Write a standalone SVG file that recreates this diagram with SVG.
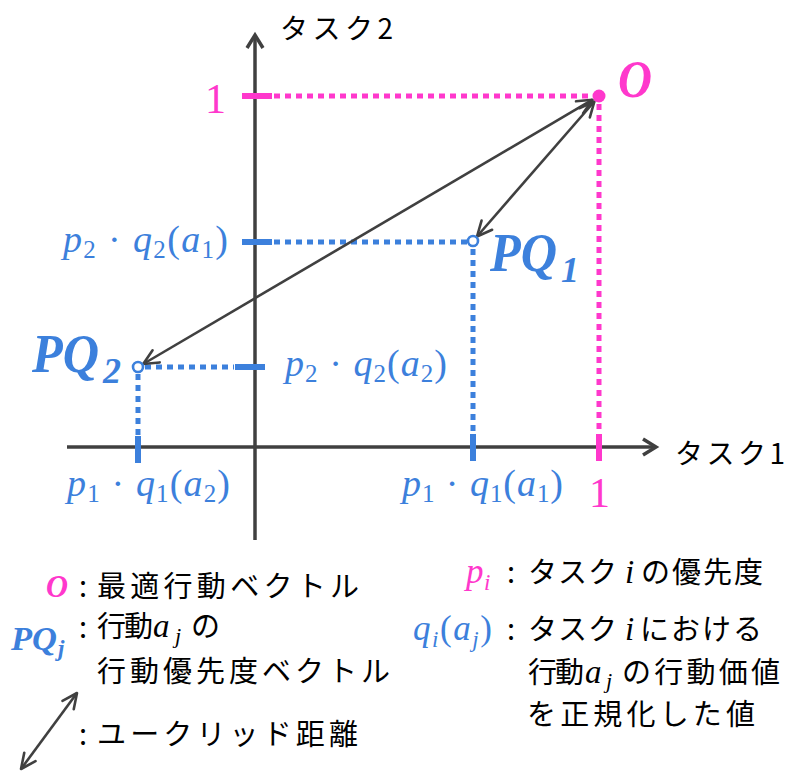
<svg xmlns="http://www.w3.org/2000/svg" width="788" height="773" viewBox="0 0 788 773">
<style>
.ax{stroke:#404040;stroke-width:3.5;fill:none}
.arr{stroke:#404040;stroke-width:2.6;fill:none}
.pk{fill:#ff38cc}
.bl{fill:#3c80dc}
.dotp{stroke:#ff38cc;stroke-width:5;stroke-dasharray:6 5;fill:none}
.dotb{stroke:#3c80dc;stroke-width:5;stroke-dasharray:6 5;fill:none}
.tkp{stroke:#ff38cc;stroke-width:6}
.tkb{stroke:#3c80dc;stroke-width:6}
.jp{font-family:"Noto Sans CJK JP","Noto Sans",sans-serif;fill:#000}
.m{font-family:"Liberation Serif",serif}
.mi{font-family:"Liberation Serif",serif;font-style:italic}
.mb{font-family:"Liberation Serif",serif;font-style:italic;font-weight:bold}
</style>
<defs>
<marker id="ah" viewBox="-18 -10 20 20" refX="0" refY="0" markerWidth="20" markerHeight="20" markerUnits="userSpaceOnUse" orient="auto-start-reverse">
<path d="M-15,-7 L0,0 L-15,7" stroke="#404040" stroke-width="2.6" fill="none" stroke-linecap="round" stroke-linejoin="round"/>
</marker>
</defs>

<g id="axes">
<line class="ax" x1="255" y1="36" x2="255" y2="540"/>
<path class="ax" d="M247,48 L255,35 L263,48"/>
<line class="ax" x1="67" y1="447" x2="655" y2="447"/>
<path class="ax" d="M643,439 L656,447 L643,455"/>
<text class="jp" x="280" y="39" font-size="28" textLength="113" lengthAdjust="spacing">タスク2</text>
<text class="jp" x="675" y="464" font-size="28" textLength="110" lengthAdjust="spacing">タスク1</text>
</g>

<g id="guides">
<line class="dotp" x1="274" y1="96" x2="593" y2="96"/>
<line class="dotp" x1="599" y1="104" x2="599" y2="434"/>
<line class="tkp" x1="242" y1="96" x2="272" y2="96"/>
<line class="tkp" x1="599" y1="434" x2="599" y2="461"/>
<line class="dotb" x1="274" y1="242" x2="467" y2="242"/>
<line class="dotb" x1="473" y1="249" x2="473" y2="434"/>
<line class="tkb" x1="242" y1="242" x2="272" y2="242"/>
<line class="tkb" x1="473" y1="434" x2="473" y2="461"/>
<line class="dotb" x1="145" y1="367" x2="234" y2="367"/>
<line class="dotb" x1="138" y1="374" x2="138" y2="436"/>
<line class="tkb" x1="235" y1="367" x2="265" y2="367"/>
<line class="tkb" x1="138" y1="436" x2="138" y2="463"/>
</g>

<g id="connectors">
<line class="arr" x1="143.2" y1="364" x2="592.5" y2="99.7" marker-start="url(#ah)" marker-end="url(#ah)"/>
<line class="arr" x1="594.4" y1="101.5" x2="477" y2="236.5" marker-start="url(#ah)" marker-end="url(#ah)"/>
<line class="arr" x1="77" y1="693" x2="21" y2="769" marker-start="url(#ah)" marker-end="url(#ah)"/>
</g>

<g id="node-O">
<circle cx="599" cy="96" r="6.5" fill="#ff38cc"/>
<text class="mb pk" x="618" y="97" font-size="52" textLength="34" lengthAdjust="spacingAndGlyphs">O</text>
</g>

<g id="node-PQ1">
<circle cx="473" cy="241" r="5" fill="#fff" stroke="#3c80dc" stroke-width="2.6"/>
<text class="mb bl" x="490" y="271" font-size="54" textLength="67" lengthAdjust="spacingAndGlyphs">PQ</text>
<text class="mb bl" x="561" y="282" font-size="36" font-style="normal">1</text>
</g>

<g id="node-PQ2">
<circle cx="138" cy="367" r="5" fill="#fff" stroke="#3c80dc" stroke-width="2.6"/>
<text class="mb bl" x="32" y="372" font-size="54" textLength="67" lengthAdjust="spacingAndGlyphs">PQ</text>
<text class="mb bl" x="103" y="383" font-size="36" font-style="normal">2</text>
</g>

<g id="labels">
<text class="m pk" x="205" y="113" font-size="42">1</text>
<text class="m pk" x="589" y="507" font-size="42">1</text>
<text class="m bl" x="63" y="252" font-size="38" textLength="165" lengthAdjust="spacing"><tspan font-style="italic">p</tspan><tspan font-size="25" dy="6">2</tspan><tspan dy="-6"> · </tspan><tspan font-style="italic">q</tspan><tspan font-size="25" dy="6">2</tspan><tspan dy="-6">(</tspan><tspan font-style="italic">a</tspan><tspan font-size="25" dy="6">1</tspan><tspan dy="-6">)</tspan></text>
<text class="m bl" x="285" y="376" font-size="38" textLength="162" lengthAdjust="spacing"><tspan font-style="italic">p</tspan><tspan font-size="25" dy="6">2</tspan><tspan dy="-6"> · </tspan><tspan font-style="italic">q</tspan><tspan font-size="25" dy="6">2</tspan><tspan dy="-6">(</tspan><tspan font-style="italic">a</tspan><tspan font-size="25" dy="6">2</tspan><tspan dy="-6">)</tspan></text>
<text class="m bl" x="67" y="496" font-size="38" textLength="163" lengthAdjust="spacing"><tspan font-style="italic">p</tspan><tspan font-size="25" dy="6">1</tspan><tspan dy="-6"> · </tspan><tspan font-style="italic">q</tspan><tspan font-size="25" dy="6">1</tspan><tspan dy="-6">(</tspan><tspan font-style="italic">a</tspan><tspan font-size="25" dy="6">2</tspan><tspan dy="-6">)</tspan></text>
<text class="m bl" x="402" y="496" font-size="38" textLength="161" lengthAdjust="spacing"><tspan font-style="italic">p</tspan><tspan font-size="25" dy="6">1</tspan><tspan dy="-6"> · </tspan><tspan font-style="italic">q</tspan><tspan font-size="25" dy="6">1</tspan><tspan dy="-6">(</tspan><tspan font-style="italic">a</tspan><tspan font-size="25" dy="6">1</tspan><tspan dy="-6">)</tspan></text>
</g>

<g id="legend-left">
<text class="mb pk" x="46" y="597" font-size="32" textLength="22" lengthAdjust="spacingAndGlyphs">O</text>
<text class="jp" x="79" y="597" font-size="29">:</text>
<text class="jp" x="97" y="597" font-size="29" textLength="262" lengthAdjust="spacing">最適行動ベクトル</text>
<text class="mb bl" x="11" y="650" font-size="34" textLength="46" lengthAdjust="spacingAndGlyphs">PQ</text>
<text class="mb bl" x="58" y="656" font-size="23">j</text>
<text class="jp" x="79" y="638" font-size="29">:</text>
<text class="jp" x="97" y="637" font-size="29" textLength="56" lengthAdjust="spacing">行動</text>
<text class="mi" x="153" y="637" font-size="33">a</text>
<text class="mi" x="175" y="643" font-size="22">j</text>
<text class="jp" x="191" y="637" font-size="29">の</text>
<text class="jp" x="97" y="682" font-size="29" textLength="293" lengthAdjust="spacing">行動優先度ベクトル</text>
<text class="jp" x="79" y="745" font-size="29">:</text>
<text class="jp" x="97" y="745" font-size="29" textLength="261" lengthAdjust="spacing">ユークリッド距離</text>
</g>

<g id="legend-right">
<text class="mi pk" x="466" y="583" font-size="35">p</text>
<text class="mi pk" x="484" y="590" font-size="23">i</text>
<text class="jp" x="507" y="583" font-size="29">:</text>
<text class="jp" x="528" y="583" font-size="29" textLength="89" lengthAdjust="spacing">タスク</text>
<text class="mi" x="625" y="583" font-size="33">i</text>
<text class="jp" x="641" y="583" font-size="29" textLength="122" lengthAdjust="spacing">の優先度</text>
<text class="m bl" x="413" y="640" font-size="35" textLength="79" lengthAdjust="spacing"><tspan font-style="italic">q</tspan><tspan font-style="italic" font-size="23" dy="7">i</tspan><tspan dy="-7">(</tspan><tspan font-style="italic">a</tspan><tspan font-style="italic" font-size="23" dy="7">j</tspan><tspan dy="-7">)</tspan></text>
<text class="jp" x="507" y="640" font-size="29">:</text>
<text class="jp" x="528" y="640" font-size="29" textLength="89" lengthAdjust="spacing">タスク</text>
<text class="mi" x="625" y="640" font-size="33">i</text>
<text class="jp" x="640" y="640" font-size="29" textLength="122" lengthAdjust="spacing">における</text>
<text class="jp" x="528" y="683" font-size="29" textLength="56" lengthAdjust="spacing">行動</text>
<text class="mi" x="585" y="683" font-size="33">a</text>
<text class="mi" x="606" y="688" font-size="22">j</text>
<text class="jp" x="622" y="683" font-size="29" textLength="158" lengthAdjust="spacing">の行動価値</text>
<text class="jp" x="527" y="725" font-size="29" textLength="228" lengthAdjust="spacing">を正規化した値</text>
</g>
</svg>
